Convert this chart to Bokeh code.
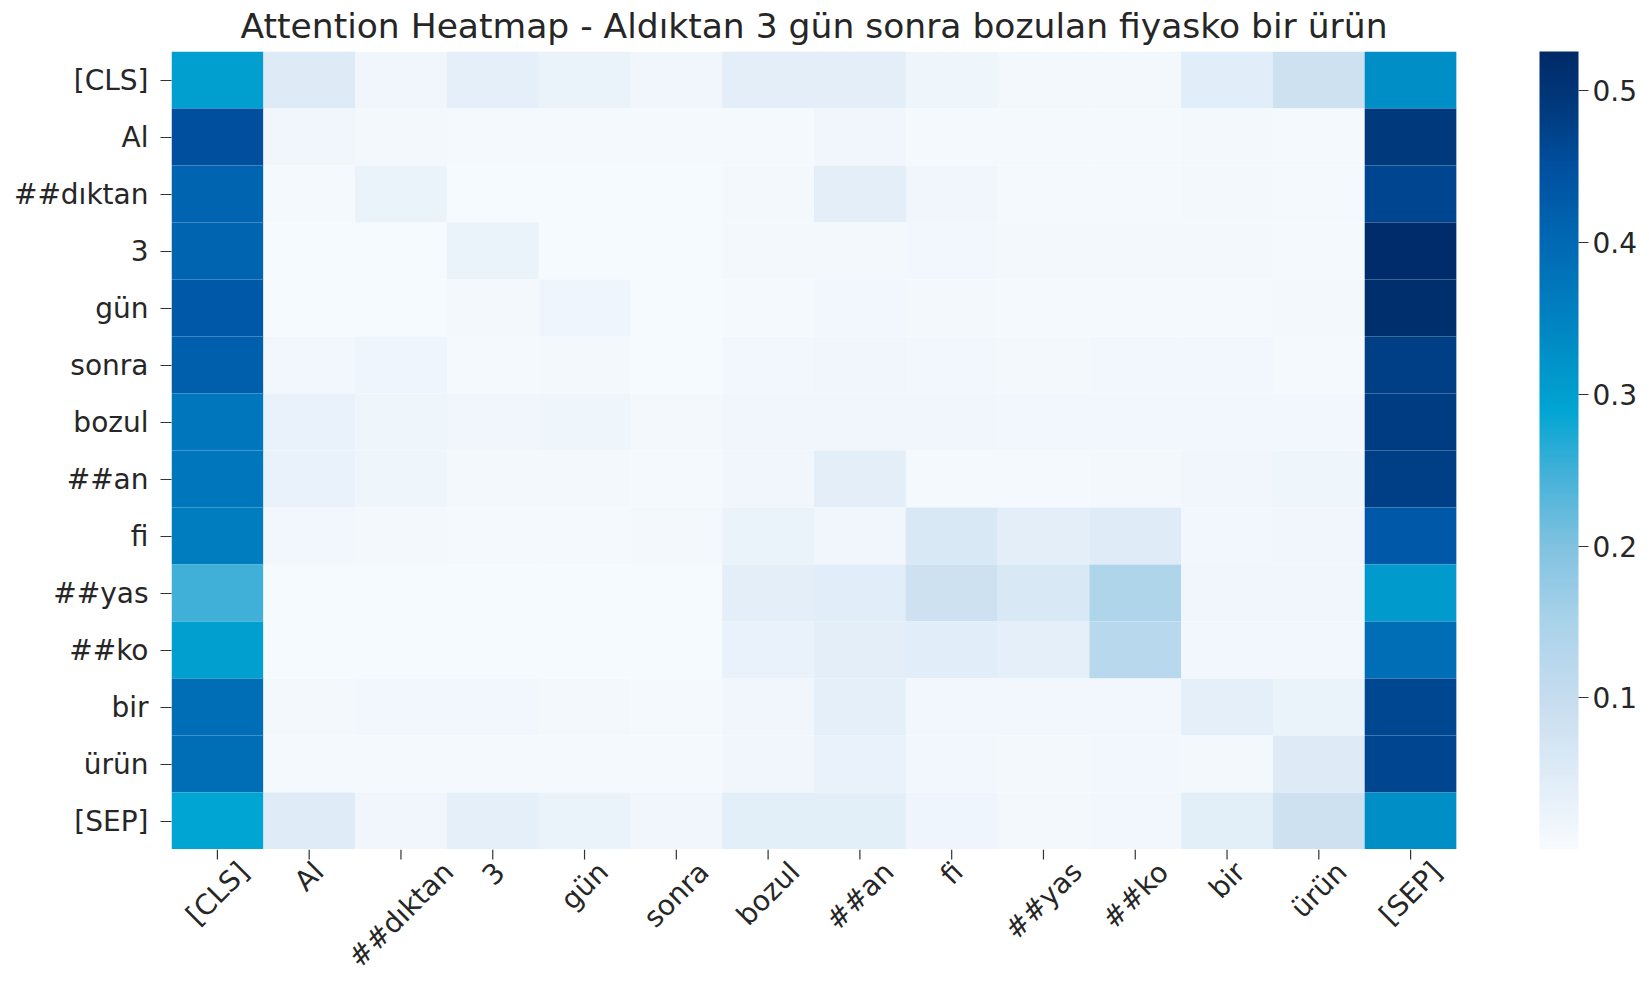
import numpy as np
from math import pi
from bokeh.plotting import figure
from bokeh.layouts import column
from bokeh.models import (LinearColorMapper, ColorBar, FixedTicker, ColumnDataSource,
                          PrintfTickFormatter, Range1d)
from bokeh.core.properties import value
from bokeh.transform import transform
from bokeh.embed import file_html
from bokeh.resources import INLINE

title_text = "Attention Heatmap - Aldıktan 3 gün sonra bozulan fiyasko bir ürün"

tokens = ["[CLS]", "Al", "##dıktan", "3", "gün", "sonra", "bozul", "##an",
          "fi", "##yas", "##ko", "bir", "ürün", "[SEP]"]

# one row of attention weights per query token (columns follow `tokens`)
row_cls    = [0.300, 0.050, 0.015, 0.035, 0.025, 0.015, 0.040, 0.040, 0.020, 0.010, 0.010, 0.045, 0.085, 0.330]
row_al     = [0.450, 0.015, 0.010, 0.008, 0.008, 0.008, 0.008, 0.015, 0.008, 0.008, 0.008, 0.010, 0.008, 0.490]
row_diktan = [0.410, 0.008, 0.025, 0.005, 0.005, 0.005, 0.010, 0.040, 0.015, 0.008, 0.008, 0.010, 0.008, 0.470]
row_3      = [0.410, 0.006, 0.006, 0.028, 0.006, 0.006, 0.010, 0.010, 0.012, 0.010, 0.010, 0.010, 0.008, 0.520]
row_gun    = [0.430, 0.006, 0.006, 0.010, 0.018, 0.006, 0.008, 0.012, 0.010, 0.008, 0.008, 0.008, 0.010, 0.515]
row_sonra  = [0.420, 0.012, 0.018, 0.008, 0.010, 0.006, 0.012, 0.015, 0.012, 0.010, 0.012, 0.014, 0.008, 0.480]
row_bozul  = [0.370, 0.030, 0.020, 0.015, 0.020, 0.010, 0.015, 0.015, 0.015, 0.012, 0.012, 0.012, 0.012, 0.485]
row_an     = [0.370, 0.030, 0.020, 0.010, 0.010, 0.008, 0.015, 0.040, 0.008, 0.008, 0.010, 0.015, 0.020, 0.480]
row_fi     = [0.360, 0.012, 0.010, 0.008, 0.008, 0.010, 0.025, 0.015, 0.060, 0.040, 0.048, 0.012, 0.015, 0.430]
row_yas    = [0.250, 0.006, 0.006, 0.006, 0.006, 0.006, 0.040, 0.045, 0.085, 0.060, 0.140, 0.015, 0.015, 0.310]
row_ko     = [0.300, 0.006, 0.006, 0.006, 0.006, 0.006, 0.030, 0.040, 0.045, 0.038, 0.125, 0.012, 0.012, 0.390]
row_bir    = [0.390, 0.010, 0.012, 0.012, 0.010, 0.008, 0.015, 0.035, 0.012, 0.012, 0.012, 0.038, 0.025, 0.465]
row_urun   = [0.390, 0.008, 0.008, 0.008, 0.008, 0.008, 0.015, 0.030, 0.012, 0.010, 0.012, 0.010, 0.050, 0.470]
row_sep    = [0.290, 0.048, 0.015, 0.035, 0.028, 0.015, 0.042, 0.042, 0.018, 0.010, 0.012, 0.042, 0.085, 0.330]

attention = [row_cls, row_al, row_diktan, row_3, row_gun, row_sonra, row_bozul,
             row_an, row_fi, row_yas, row_ko, row_bir, row_urun, row_sep]

cbar_ticks = [0.1, 0.2, 0.3, 0.4, 0.5]
value_low, value_high = 0.0, 0.526

# ---- colour map (saturated "Blues"-like) ----
anchor_vals = [0.0, 0.02, 0.05, 0.10, 0.15, 0.20, 0.25, 0.29, 0.33, 0.37, 0.41, 0.45, 0.49, 0.526]
anchor_cols = ["#f7fbff", "#edf4fb", "#deebf7", "#c6dcef", "#a9d3ea", "#80c2e0", "#40b0d8",
               "#00a5d3", "#008ec6", "#0078bc", "#0064b0", "#0050a0", "#003a7e", "#002a68"]


def _hex2rgb(h):
    return [int(h[i:i + 2], 16) for i in (1, 3, 5)]


_rgb = np.array([_hex2rgb(c) for c in anchor_cols], dtype=float)
_grid = np.linspace(value_low, value_high, 256)
palette = []
for g in _grid:
    r, gg, b = (np.interp(g, anchor_vals, _rgb[:, k]) for k in range(3))
    palette.append("#%02x%02x%02x" % (int(round(r)), int(round(gg)), int(round(b))))

mapper = LinearColorMapper(palette=palette, low=value_low, high=value_high)

xs, ys, vals = [], [], []
for q, row in zip(tokens, attention):
    for k, v in zip(tokens, row):
        xs.append(k)
        ys.append(q)
        vals.append(v)
src = ColumnDataSource(dict(x=xs, y=ys, v=vals))

FONT = "DejaVu Sans"
TXT = "#262626"
TICK_FS = 28.0
CBAR_FS = 28.0
W = 1641
LEFT, RIGHT = 171, 185

# ---------------- heatmap ----------------
p = figure(width=W, height=849, x_range=tokens, y_range=list(reversed(tokens)),
           output_backend="svg", toolbar_location=None,
           min_border_left=LEFT, min_border_right=RIGHT, min_border_top=51, min_border_bottom=0)

p.rect(x="x", y="y", width=1, height=1, source=src, dilate=True,
       fill_color=transform("v", mapper), line_color=None)

p.title.text = title_text
p.title.align = "center"
p.title.vertical_align = "top"
p.title.text_font = FONT
p.title.text_font_size = "34.5px"
p.title.text_font_style = "normal"
p.title.text_color = TXT
p.title.standoff = 8

p.grid.grid_line_color = None
p.outline_line_color = None
p.xaxis.visible = False
p.yaxis.axis_line_color = None
p.yaxis.major_tick_in = 0
p.yaxis.major_tick_out = 11
p.yaxis.major_tick_line_color = "#333333"
p.yaxis.major_tick_line_width = 1.2
p.yaxis.major_label_text_font = FONT
p.yaxis.major_label_text_font_size = "%gpx" % TICK_FS
p.yaxis.major_label_text_color = TXT
p.yaxis.major_label_standoff = 12

cbar = ColorBar(color_mapper=mapper, ticker=FixedTicker(ticks=cbar_ticks),
                formatter=PrintfTickFormatter(format="%.1f"),
                width=39, height=798, location=(1368, 0), padding=0, margin=0,
                major_label_text_font=FONT, major_label_text_font_size="%gpx" % CBAR_FS,
                major_label_text_color=TXT, major_tick_out=10, major_tick_in=0,
                major_tick_line_color="#333333", major_tick_line_width=1.2,
                bar_line_color=None, border_line_color=None,
                background_fill_color=None, label_standoff=4)
p.add_layout(cbar)

# ---------------- x tick strip (ticks + rotated, centred labels like matplotlib) ----------------
STRIP_H = 135
px = figure(width=W, height=STRIP_H, x_range=p.x_range, y_range=Range1d(-STRIP_H, 0),
            output_backend="svg", toolbar_location=None,
            min_border_left=LEFT, min_border_right=RIGHT, min_border_top=0, min_border_bottom=0)
px.axis.visible = False
px.grid.visible = False
px.outline_line_color = None

# approximate DejaVu Sans advance widths (em) to centre each rotated label box on its tick
_adv = {"[": .390, "]": .390, "C": .698, "L": .557, "S": .635, "E": .632, "P": .603,
        "A": .684, "l": .278, "#": .838, "d": .635, "ı": .278, "k": .579, "t": .392,
        "a": .613, "n": .634, "3": .636, "g": .635, "ü": .634, "s": .521, "o": .612,
        "r": .411, "b": .635, "z": .525, "u": .634, "f": .352, "i": .278, "y": .592}
line_h = 1.164 * TICK_FS
pad = 6.0
tick_len = 10
lab_y = [-(pad + 0.3536 * (sum(_adv.get(c, 0.6) for c in t) * TICK_FS + line_h)) for t in tokens]
lab_src = ColumnDataSource(dict(x=tokens, y=lab_y, text=tokens, y0=[0] * len(tokens),
                                y1=[-tick_len] * len(tokens)))

px.segment(x0="x", y0="y0", x1="x", y1="y1", source=lab_src,
           line_color="#333333", line_width=1.2)
px.text(x="x", y="y", text="text", source=lab_src, angle=pi / 4,
        text_align="center", text_baseline="middle",
        text_font=value(FONT), text_font_size=value("%gpx" % TICK_FS), text_color=TXT)

layout = column(p, px, spacing=0)
open("out.html", "w").write(file_html(layout, INLINE))
